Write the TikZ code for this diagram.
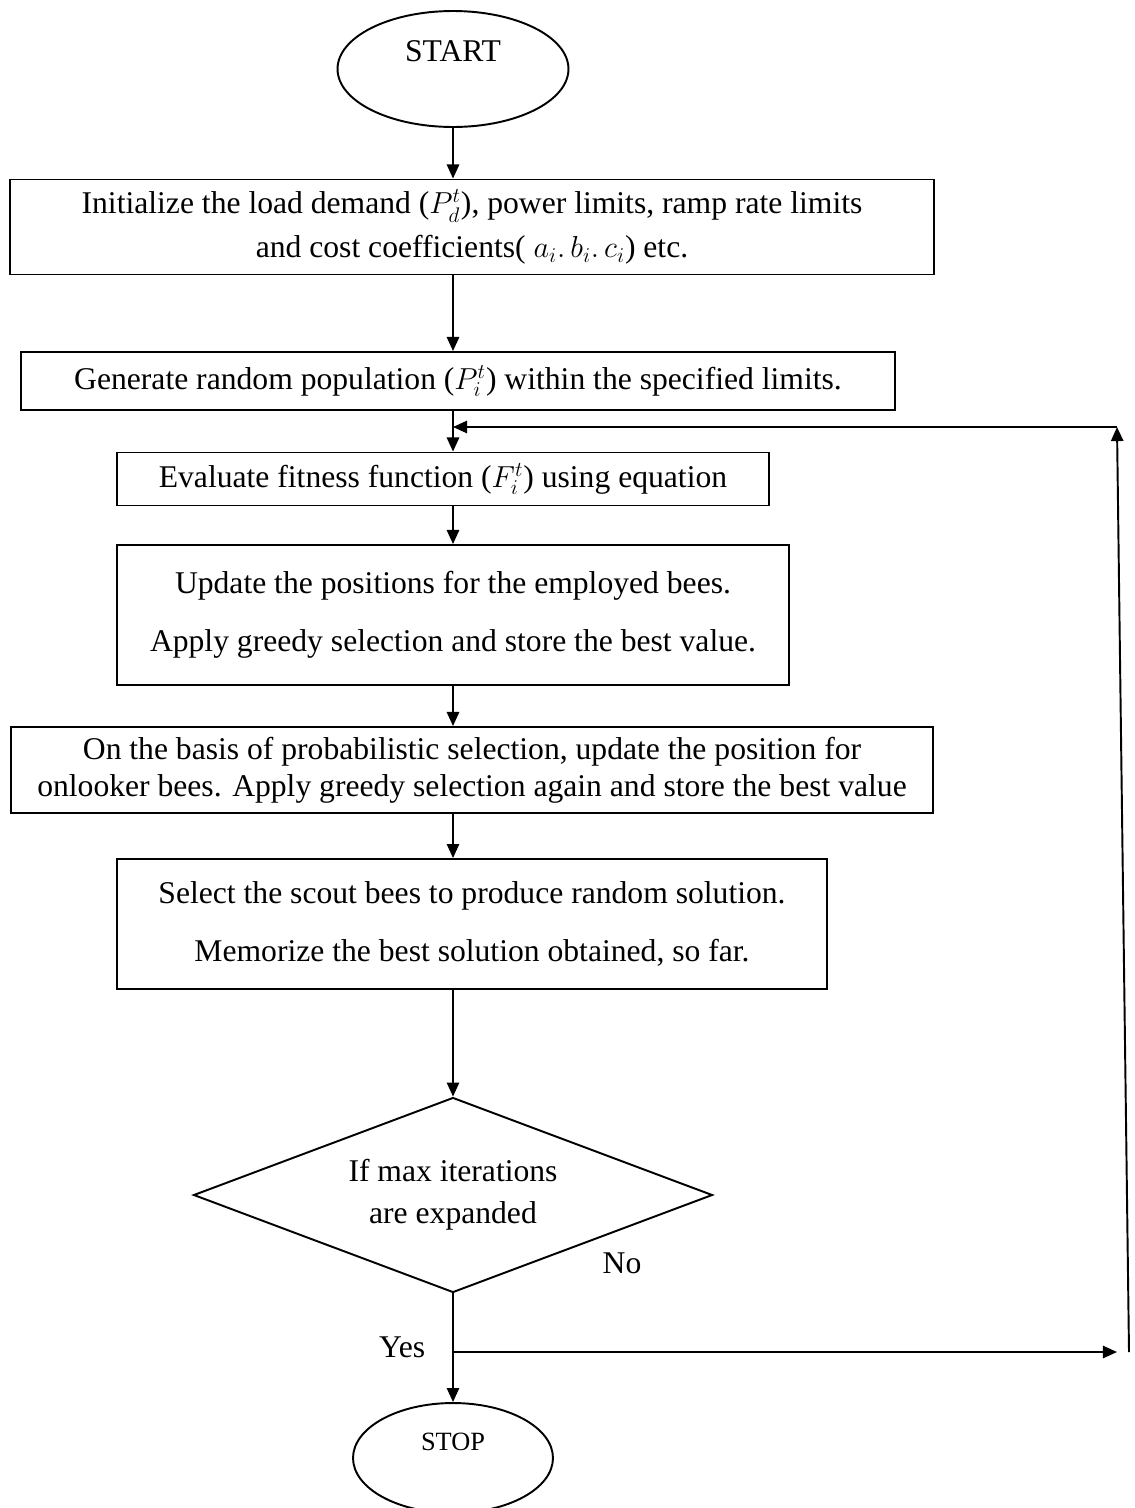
\documentclass[tikz,border=0pt]{standalone}
\usepackage{fontspec}
\usepackage{amsmath}
\setmainfont{Liberation Serif}
\usetikzlibrary{arrows.meta,shapes.geometric}

\begin{document}
\begin{tikzpicture}[->,>={Triangle[length=8pt,width=7pt]},x=0.02cm,y=-0.02cm,line width=1.1pt,
                    font=\fontsize{18}{21}\selectfont,
                    box node/.style={draw,rectangle,align=center,inner sep=0pt},
                    end node/.style={draw,ellipse,align=center,inner sep=0pt},
                    test node/.style={draw,diamond,align=center,inner sep=0pt,aspect=2.66}]
\useasboundingbox (0,0) rectangle (1134,1508);
\node[end node,minimum width=4.62cm,minimum height=2.32cm] (1) at (453,69) {START\\\mbox{}};
\node[box node,minimum width=18.5cm,minimum height=1.9cm] (2) at (472,227)
  {Initialize the load demand ($P_d^t$), power limits, ramp rate limits\\[4pt]
   and cost coefficients( $a_{i}.\,b_{i}.\,c_{i}$) etc.};
\node[box node,minimum width=17.48cm,minimum height=1.16cm] (3) at (458,381)
  {Generate random population ($P_i^t$) within the specified limits.};
\node[box node,minimum width=13.06cm,minimum height=1.06cm] (4) at (443,479)
  {Evaluate fitness function ($F_i^t$) using equation};
\node[box node,minimum width=13.44cm,minimum height=2.8cm] (5) at (453,615)
  {Update the positions for the employed bees.\\[12pt]
   Apply greedy selection and store the best value.};
\node[box node,minimum width=18.44cm,minimum height=1.72cm] (6) at (472,770)
  {On the basis of probabilistic selection, update the position for\\
   onlooker bees. Apply greedy selection again and store the best value};
\node[box node,minimum width=14.2cm,minimum height=2.6cm] (7) at (472,924)
  {Select the scout bees to produce random solution.\\[12pt]
   Memorize the best solution obtained, so far.};
\node[test node,minimum width=10.38cm,minimum height=3.9cm] (8) at (453,1195)
  {If max iterations\\[3pt] are expanded};
\node[end node,minimum width=4cm,minimum height=2.2cm,font=\fontsize{15}{18}\selectfont] (9) at (453,1458) {STOP\\\mbox{}};
\node (no) at (622,1263) {No};

\coordinate (join) at (453,427);
\coordinate (split) at (453,1352);
\coordinate (r1) at (1117,1352);
\coordinate (r2) at (1129,1352);
\coordinate (r3) at (1117,427);

\path
(1) edge (2.north -| 1)
(2.south -| 1) edge (3.north -| 1)
(3.south -| 1) edge (4.north -| 1)
(4.south -| 1) edge (5.north -| 1)
(5.south -| 1) edge (6.north -| 1)
(6.south -| 1) edge (7.north -| 1)
(7.south -| 1) edge (8)
(8) edge node[pos=0.5,left,xshift=-12pt] (yes) {Yes} (9)
(split) edge (r1)
(r2) edge (r3)
(r3) edge (join)
;

\end{tikzpicture}
\end{document}
